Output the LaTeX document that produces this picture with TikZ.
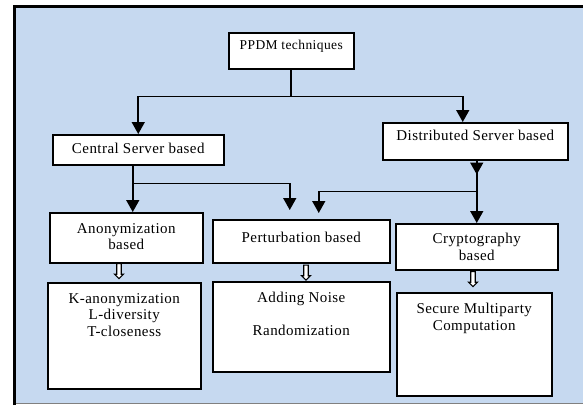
\documentclass[tikz,border=0pt]{standalone}
\usepackage{fontspec}
\setmainfont[LetterSpace=3]{Liberation Serif}
\usetikzlibrary{positioning,arrows.meta,shapes.arrows}
\definecolor{bgblue}{RGB}{198,217,240}
\begin{document}
\begin{tikzpicture}[x=1pt,y=-1pt,
    box/.style={draw,line width=1.5pt,fill=white,inner sep=0pt,anchor=north west},
    txt/.style={inner sep=0pt,align=center,font=\fontsize{15}{16.5}\selectfont},
    arr/.style={line width=1.6pt,-{Triangle[width=13pt,length=12pt]}},
    hollow/.style={single arrow,draw,line width=1.2pt,fill=white,shape border rotate=270,
        minimum height=15pt,inner sep=1.6pt,single arrow head extend=2.2pt}]
    \useasboundingbox (0,0) rectangle (583,405);
    \fill[bgblue] (14,6) rectangle (583,404);
    \draw[line width=3pt] (14.5,405) -- (14.5,6.5) -- (583,6.5);
    \draw[gray,line width=1.5pt] (16,403.5) -- (583,403.5);

    \node[box,minimum width=125pt,minimum height=36pt] (ppdm) at (228,32) {};
    \node[box,minimum width=171pt,minimum height=30pt] (central) at (52,134) {};
    \node[box,minimum width=185pt,minimum height=37pt] (dist) at (382,122) {};
    \node[box,minimum width=153pt,minimum height=50pt] (anon) at (49,212) {};
    \node[box,minimum width=177pt,minimum height=43pt] (pert) at (212,219) {};
    \node[box,minimum width=162pt,minimum height=46pt] (crypt) at (395,223) {};
    \node[box,minimum width=153pt,minimum height=106pt] (kanon) at (47,282) {};
    \node[box,minimum width=177pt,minimum height=90pt] (noise) at (212,281) {};
    \node[box,minimum width=155pt,minimum height=103pt] (secure) at (396,292) {};

    \node[txt,font=\fontsize{13.5}{15}\selectfont,below=7.5pt of ppdm.north] (ppdmtxt) {PPDM techniques};
    \node[txt,below=9pt of central.north] (centraltxt) {Central Server based};
    \node[txt,below=8pt of dist.north] (disttxt) {Distributed Server based};
    \node[txt,below=11pt of anon.north] (anontxt) {Anonymization\\based};
    \node[txt,below=13pt of pert.north] (perttxt) {Perturbation based};
    \node[txt,below=10pt of crypt.north] (crypttxt) {Cryptography\\based};
    \node[txt,below=11pt of kanon.north] (kanontxt) {K-anonymization\\L-diversity\\T-closeness};
    \node[txt,below=11pt of noise.north] (noisetxt) {Adding Noise\\[16.5pt]Randomization};
    \node[txt,below=11pt of secure.north] (securetxt) {Secure Multiparty\\Computation};

    \draw[arr] (ppdm.south) -- ++(0,27) -| (central.north);
    \draw[arr] (ppdm.south) -- ++(0,27) -| ([xshift=-12.5pt]dist.north);
    \draw[arr] ([xshift=-5.5pt]central.south) -- ([xshift=6.5pt]anon.north);
    \draw[arr] ([xshift=-5.5pt]central.south) ++(0,18) -| ([xshift=-11.5pt,yshift=9pt]pert.north);
    \draw[arr] (dist.south -| crypt.north) -- ++(0,14);
    \draw[arr] (dist.south -| crypt.north) -- (crypt.north);
    \draw[arr] (dist.south -| crypt.north) ++(0,31) -| ([xshift=17.5pt,yshift=6pt]pert.north);

    \node[hollow] (anonarr) at (119,270) {};
    \node[hollow] (pertarr) at (306,271.5) {};
    \node[hollow] (cryptarr) at (473,278) {};
\end{tikzpicture}
\end{document}
